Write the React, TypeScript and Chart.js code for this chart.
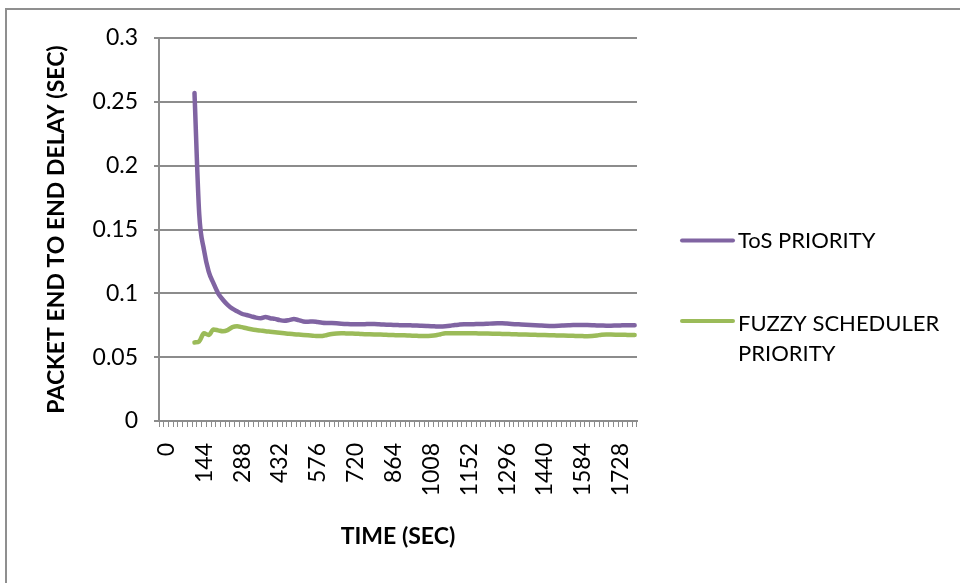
import React, { useEffect, useRef } from "react";
import { Chart, registerables } from "chart.js";

Chart.register(...registerables);

const timeLabels = [
  "0", "18", "36", "54", "72", "90", "108", "126", "144", "162", "180", "198", "216", "234", "252", "270", "288", "306", "324", "342",
  "360", "378", "396", "414", "432", "450", "468", "486", "504", "522", "540", "558", "576", "594", "612", "630", "648", "666", "684", "702",
  "720", "738", "756", "774", "792", "810", "828", "846", "864", "882", "900", "918", "936", "954", "972", "990", "1008", "1026", "1044", "1062",
  "1080", "1098", "1116", "1134", "1152", "1170", "1188", "1206", "1224", "1242", "1260", "1278", "1296", "1314", "1332", "1350", "1368", "1386", "1404", "1422",
  "1440", "1458", "1476", "1494", "1512", "1530", "1548", "1566", "1584", "1602", "1620", "1638", "1656", "1674", "1692", "1710", "1728", "1746", "1764", "1782",
  "1800",
];

const tosPriority = [
  null, null, null, null, null, null, null,
  0.257, 0.162, 0.134, 0.117, 0.108, 0.100, 0.095, 0.091, 0.088, 0.086,
  0.084, 0.083, 0.082, 0.081, 0.0805, 0.0815, 0.0805, 0.080, 0.079, 0.0785,
  0.079, 0.0798, 0.079, 0.078, 0.0778, 0.078, 0.0775, 0.077, 0.0768, 0.0767,
  0.0765, 0.0762, 0.0760, 0.0758, 0.0757, 0.0757, 0.0758, 0.0760, 0.0760, 0.0758,
  0.0755, 0.0754, 0.0752, 0.0751, 0.0750, 0.0750, 0.0749, 0.0748, 0.0746, 0.0744,
  0.0742, 0.0741, 0.0740, 0.0742, 0.0746, 0.0752, 0.0755, 0.0757, 0.0758, 0.0758,
  0.0760, 0.0760, 0.0762, 0.0764, 0.0765, 0.0765, 0.0763, 0.0760, 0.0758, 0.0756,
  0.0754, 0.0752, 0.0750, 0.0748, 0.0746, 0.0745, 0.0745, 0.0746, 0.0748, 0.0750,
  0.0752, 0.0752, 0.0752, 0.0751, 0.0750, 0.0749, 0.0748, 0.0747, 0.0747, 0.0748,
  0.0749, 0.0750, 0.0750, 0.0750,
];

const fuzzyPriority = [
  null, null, null, null, null, null, null,
  0.0615, 0.0624, 0.0687, 0.0674, 0.0716, 0.0710, 0.0703, 0.0712, 0.0735, 0.0742,
  0.0735, 0.0726, 0.0719, 0.0713, 0.0708, 0.0703, 0.0699, 0.0695, 0.0691, 0.0687,
  0.0683, 0.0680, 0.0677, 0.0674, 0.0671, 0.0668, 0.0665, 0.0666, 0.0674, 0.0681,
  0.0685, 0.0687, 0.0686, 0.0685, 0.0684, 0.0682, 0.0680, 0.0679, 0.0678, 0.0677,
  0.0676, 0.0674, 0.0673, 0.0672, 0.0671, 0.0670, 0.0668, 0.0667, 0.0666, 0.0666,
  0.0668, 0.0672, 0.0680, 0.0687, 0.0688, 0.0688, 0.0687, 0.0687, 0.0687, 0.0687,
  0.0686, 0.0686, 0.0685, 0.0684, 0.0683, 0.0682, 0.0681, 0.0680, 0.0679, 0.0678,
  0.0677, 0.0676, 0.0675, 0.0674, 0.0673, 0.0672, 0.0671, 0.0670, 0.0669, 0.0668,
  0.0667, 0.0666, 0.0665, 0.0664, 0.0665, 0.0669, 0.0676, 0.0678, 0.0677, 0.0676,
  0.0675, 0.0675, 0.0674, 0.0674,
];

const seriesNames = ["ToS PRIORITY", "FUZZY SCHEDULER PRIORITY"];
const legendTextLines = [["ToS PRIORITY"], ["FUZZY SCHEDULER", "PRIORITY"]];
const xTitle = "TIME (SEC)";
const yTitle = "PACKET END TO END DELAY (SEC)";
const labelEvery = 8;

const GRID = "#8c8c8c";
const FONT = "Lato";

const framePlugin = {
  id: "frame",
  beforeDraw(chart: any) {
    const ctx = chart.ctx;
    ctx.save();
    ctx.fillStyle = "#ffffff";
    ctx.fillRect(0, 0, chart.width, chart.height);
    ctx.strokeStyle = "#8f8f8f";
    ctx.lineWidth = 2;
    ctx.beginPath();
    ctx.moveTo(6, chart.height);
    ctx.lineTo(6, 9);
    ctx.lineTo(chart.width, 9);
    ctx.stroke();
    ctx.restore();
  },
};

const sideLegendPlugin = {
  id: "sideLegend",
  afterDraw(chart: any) {
    const ctx = chart.ctx;
    const right = chart.chartArea.right;
    const layout = [
      { lineY: 240.5, baselines: [248] },
      { lineY: 321, baselines: [331, 361] },
    ];
    chart.data.datasets.forEach((ds: any, i: number) => {
      const pos = layout[i];
      ctx.save();
      ctx.strokeStyle = ds.borderColor;
      ctx.lineWidth = 4;
      ctx.lineCap = "round";
      ctx.beginPath();
      ctx.moveTo(right + 45, pos.lineY);
      ctx.lineTo(right + 96, pos.lineY);
      ctx.stroke();
      ctx.fillStyle = "#000000";
      ctx.font = `22px ${FONT}`;
      ctx.textBaseline = "alphabetic";
      ctx.textAlign = "left";
      legendTextLines[i].forEach((t, j) => {
        ctx.fillText(t, right + 101, pos.baselines[j]);
      });
      ctx.restore();
    });
  },
};

export default function App() {
  const canvasRef = useRef<HTMLCanvasElement | null>(null);

  useEffect(() => {
    if (!canvasRef.current) return;
    const chart = new Chart(canvasRef.current, {
      type: "line",
      data: {
        labels: timeLabels,
        datasets: [
          {
            label: seriesNames[0],
            data: tosPriority,
            borderColor: "#8064a2",
            backgroundColor: "#8064a2",
            borderWidth: 4.5,
            pointRadius: 0,
            tension: 0.4,
            cubicInterpolationMode: "monotone",
            borderCapStyle: "round",
            borderJoinStyle: "round",
          },
          {
            label: seriesNames[1],
            data: fuzzyPriority,
            borderColor: "#9bbb59",
            backgroundColor: "#9bbb59",
            borderWidth: 4.5,
            pointRadius: 0,
            tension: 0.4,
            cubicInterpolationMode: "monotone",
            borderCapStyle: "round",
            borderJoinStyle: "round",
          },
        ],
      },
      options: {
        animation: false,
        responsive: true,
        maintainAspectRatio: false,
        layout: { padding: { top: 38, right: 323, bottom: 33, left: 0 } },
        plugins: {
          legend: { display: false },
          tooltip: { enabled: false },
        },
        scales: {
          x: {
            type: "category",
            offset: true,
            grid: {
              display: true,
              drawOnChartArea: false,
              drawTicks: true,
              tickLength: 6,
              color: GRID,
              lineWidth: 1,
              offset: true,
            },
            border: { display: true, color: GRID, width: 2 },
            ticks: {
              autoSkip: false,
              maxRotation: 90,
              minRotation: 90,
              padding: 16,
              labelOffset: 5,
              color: "#000000",
              font: { family: FONT, size: 23 },
              callback: (_v: any, i: number) => (i % labelEvery === 0 ? timeLabels[i] : ""),
            },
            title: {
              display: true,
              text: xTitle,
              color: "#000000",
              font: { family: FONT, size: 23, weight: "bold" },
              padding: { top: 0, bottom: 0 },
            },
            afterFit: (scale: any) => {
              scale.height = 129;
            },
          },
          y: {
            min: 0,
            max: 0.3,
            grid: {
              color: GRID,
              lineWidth: 2,
              drawTicks: true,
              tickLength: 5,
            },
            border: { display: true, color: GRID, width: 2 },
            ticks: {
              stepSize: 0.05,
              padding: 16,
              color: "#000000",
              font: { family: FONT, size: 23 },
              callback: (v: any) => String(Number(Number(v).toFixed(2))),
            },
            title: {
              display: true,
              text: yTitle,
              color: "#000000",
              font: { family: FONT, size: 23, weight: "bold" },
              padding: { top: 43, bottom: 0 },
            },
            afterFit: (scale: any) => {
              scale.width = 159;
            },
          },
        },
      },
      plugins: [framePlugin, sideLegendPlugin],
    } as any);
    return () => chart.destroy();
  }, []);

  return (
    <div style={{ position: "fixed", left: 0, top: 0, width: 960, height: 583, background: "#fff" }}>
      <canvas ref={canvasRef} />
    </div>
  );
}
